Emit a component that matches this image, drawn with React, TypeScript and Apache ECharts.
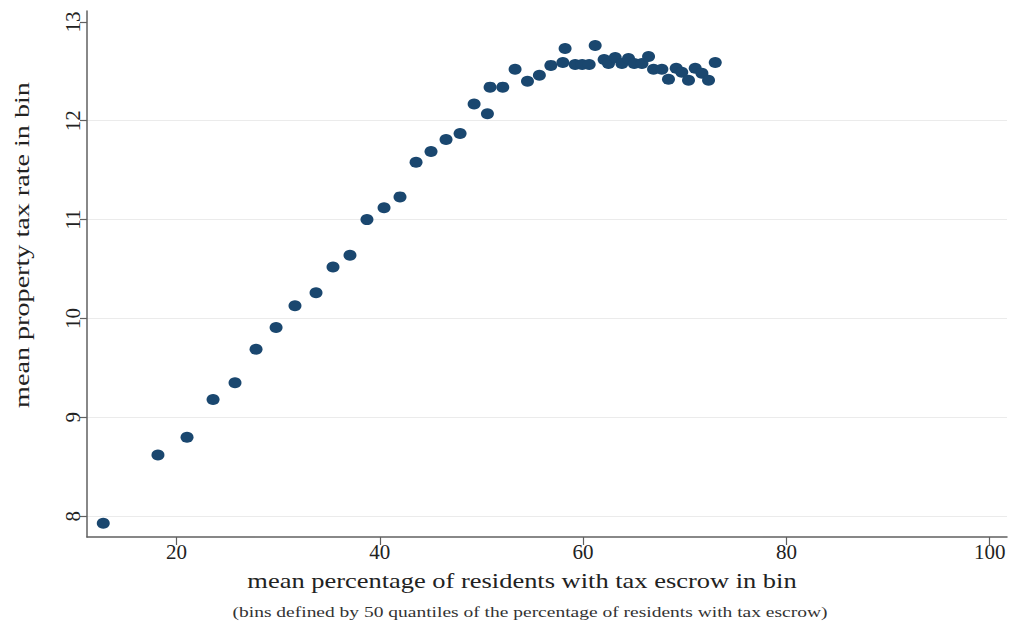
import React, { useEffect, useRef } from "react";
import * as echarts from "echarts";

const xValues: number[] = [
  12.8, 18.18, 21.04, 23.6, 25.76, 27.83, 29.8, 31.66, 33.73, 35.4,
  37.07, 38.74, 40.42, 41.99, 43.57, 45.04, 46.52, 47.9, 49.28, 50.59,
  50.85, 52.1, 53.31, 54.53, 55.7, 56.83, 58.23, 58.01, 59.22, 59.91,
  60.6, 61.19, 62.07, 62.5, 63.16, 63.82, 64.47, 65.03, 65.79, 66.44,
  66.93, 67.75, 68.4, 69.16, 69.71, 70.37, 71.03, 71.69, 72.34, 73.0,
];
const yValues: number[] = [
  7.93, 8.62, 8.8, 9.18, 9.35, 9.69, 9.91, 10.13, 10.26, 10.52,
  10.64, 11.0, 11.12, 11.23, 11.58, 11.69, 11.81, 11.87, 12.17, 12.07,
  12.34, 12.34, 12.52, 12.4, 12.46, 12.56, 12.73, 12.59, 12.57, 12.57,
  12.57, 12.76, 12.62, 12.58, 12.64, 12.58, 12.63, 12.58, 12.58, 12.65,
  12.52, 12.52, 12.42, 12.53, 12.49, 12.41, 12.53, 12.48, 12.41, 12.59,
];
const xTicks: number[] = [20, 40, 60, 80, 100];
const yTicks: number[] = [8, 9, 10, 11, 12, 13];

const xTitle = "mean percentage of residents with tax escrow in bin";
const xNote = "(bins defined by 50 quantiles of the percentage of residents with tax escrow)";
const yTitle = "mean property tax rate in bin";

const FONT = "'Liberation Serif', 'Times New Roman', serif";

export default function App() {
  const ref = useRef<HTMLDivElement>(null);
  useEffect(() => {
    document.body.style.margin = "0";
    const chart = echarts.init(ref.current!, null, { renderer: "svg" });
    const data = xValues.map((x, i) => [x, yValues[i]]);
    chart.setOption({
      animation: false,
      backgroundColor: "#ffffff",
      grid: { left: 87, right: 6, top: 11, bottom: 89, containLabel: false },
      xAxis: {
        type: "value",
        min: 11.2,
        max: 101.7,
        axisLine: { show: true, lineStyle: { color: "#606060", width: 1.5 } },
        axisTick: { show: true, length: 8, customValues: xTicks, lineStyle: { color: "#606060", width: 1.2 } },
        axisLabel: { customValues: xTicks, fontSize: 21, fontFamily: FONT, color: "#222", margin: 4 },
        splitLine: { show: false },
      },
      yAxis: {
        type: "value",
        min: 7.79,
        max: 13.11,
        axisLine: { show: true, lineStyle: { color: "#606060", width: 1.5 } },
        axisTick: { show: true, length: 7, customValues: yTicks, lineStyle: { color: "#606060", width: 1.2 } },
        axisLabel: { customValues: yTicks, fontSize: 21, fontFamily: FONT, color: "#222", rotate: 90, margin: 4 },
        splitLine: { show: true, showMinLine: true, showMaxLine: false, lineStyle: { color: "#ebebeb", width: 1 } },
      },
      graphic: [
        {
          type: "text",
          x: 522,
          y: 581,
          scaleX: 1.26,
          style: { text: xTitle, fontSize: 21, fontFamily: FONT, fill: "#222", textAlign: "center", textVerticalAlign: "middle" },
        },
        {
          type: "text",
          x: 530,
          y: 612,
          scaleX: 1.3,
          style: { text: xNote, fontSize: 15, fontFamily: FONT, fill: "#333", textAlign: "center", textVerticalAlign: "middle" },
        },
        {
          type: "text",
          x: 21,
          y: 245,
          rotation: Math.PI / 2,
          scaleX: 1.28,
          style: { text: yTitle, fontSize: 22, fontFamily: FONT, fill: "#222", textAlign: "center", textVerticalAlign: "middle" },
        },
      ],
      series: [
        {
          type: "scatter",
          data,
          symbol: "circle",
          symbolSize: [13, 11],
          itemStyle: { color: "#1a476f", opacity: 1 },
        },
      ],
    });
    return () => chart.dispose();
  }, []);
  return <div ref={ref} style={{ width: 1013, height: 626 }} />;
}
